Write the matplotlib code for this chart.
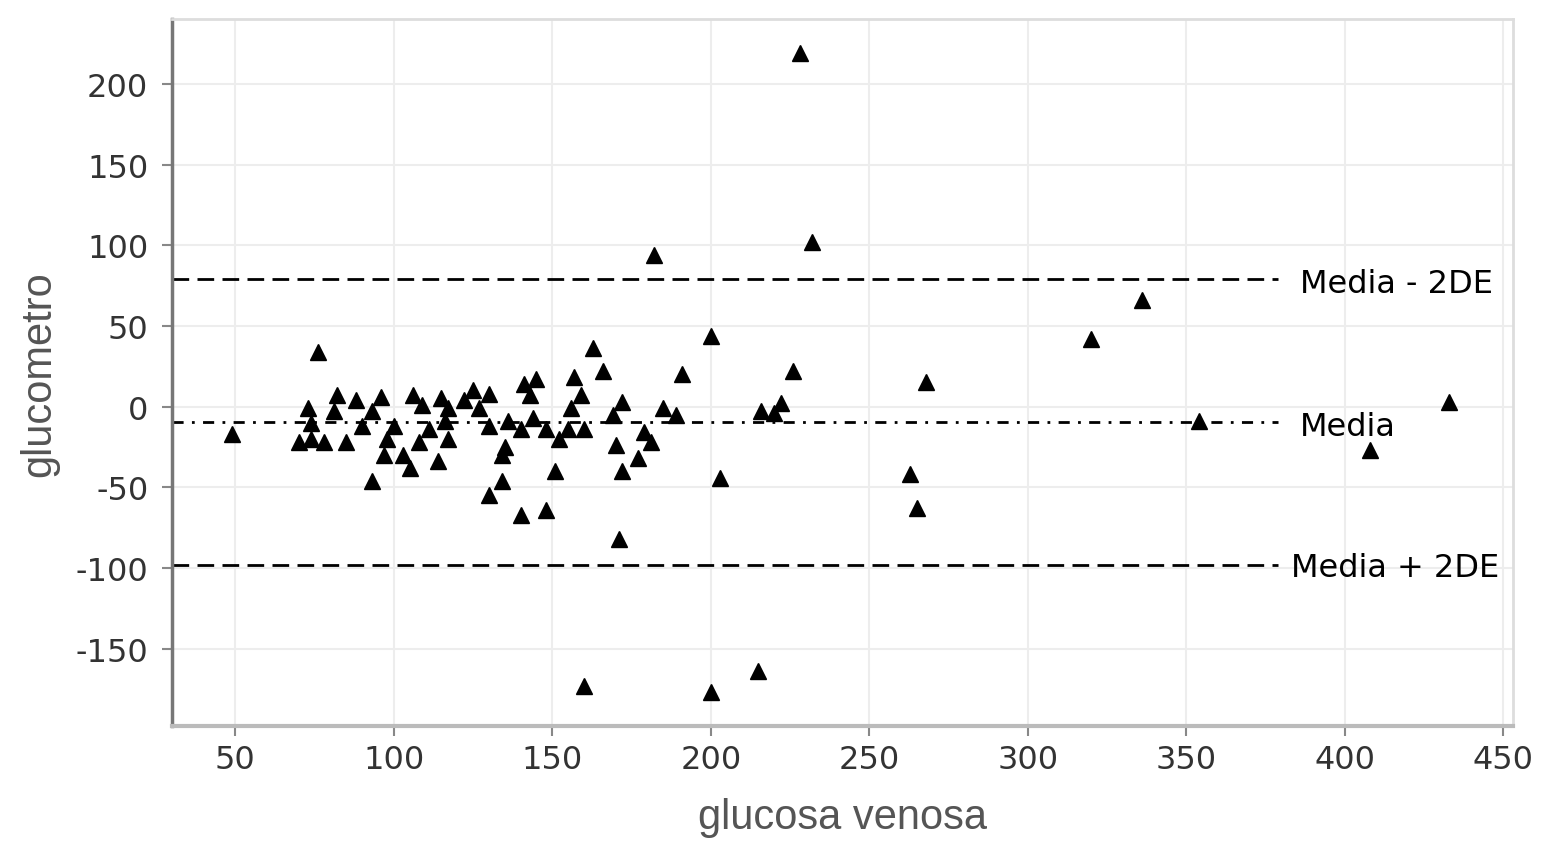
import matplotlib
matplotlib.use("Agg")
import matplotlib.pyplot as plt

plt.rcParams["axes.unicode_minus"] = False

# glucosa venosa vs diferencia con glucometro (Bland-Altman)
glucosa_venosa = [49, 70, 73, 74, 76, 78, 74, 81, 82, 85, 88, 90, 93, 93, 96,
                  97, 98, 100, 103, 105, 106, 108, 109, 111, 114, 115, 116,
                  117, 117, 122, 125, 127, 130, 130, 130, 134, 135, 134, 136,
                  140, 140, 141, 143, 144, 145, 148, 148, 151, 152, 155, 156,
                  157, 159, 160, 160, 163, 166, 169, 170, 171, 172, 172, 177,
                  179, 181, 182, 185, 189, 191, 200, 200, 203, 215, 216, 220,
                  222, 226, 228, 232, 263, 265, 268, 320, 336, 354, 408, 433]
glucometro = [-17, -22, -1, -20, 34, -22, -10, -3, 7, -22, 4, -12, -3, -46, 6,
              -30, -20, -12, -30, -38, 7, -22, 1, -14, -34, 5, -9,
              -20, -1, 4, 10, -1, 8, -12, -55, -30, -25, -46, -9,
              -14, -67, 14, 7, -7, 17, -14, -64, -40, -20, -14, -1,
              18, 7, -14, -173, 36, 22, -5, -24, -82, 3, -40, -32,
              -16, -22, 94, -1, -5, 20, 44, -177, -44, -164, -3, -4,
              2, 22, 219, 102, -42, -63, 15, 42, 66, -9, -27, 3]

media = -9.6
media_menos_2de = 79
media_mas_2de = -98
fin_lineas = 379

fig = plt.figure(figsize=(15.42, 8.45), dpi=100)
ax = fig.add_axes([0.1115, 0.1396, 0.8695, 0.8364])

ax.grid(True, color="#ededed", linewidth=1.5)
ax.set_axisbelow(True)

ax.plot([30, fin_lineas], [media_menos_2de, media_menos_2de], color="black",
        linestyle=(0, (6, 3)), linewidth=2)
ax.plot([30, fin_lineas], [media, media], color="black",
        linestyle=(0, (4, 3, 1, 3)), linewidth=2)
ax.plot([30, fin_lineas], [media_mas_2de, media_mas_2de], color="black",
        linestyle=(0, (6, 3)), linewidth=2)

ax.plot(glucosa_venosa, glucometro, "^", color="black", markersize=11,
        linestyle="none")

ax.text(386, media_menos_2de - 3, "Media - 2DE", fontsize=23, va="center",
        ha="left", family="DejaVu Sans")
ax.text(386, media - 3, "Media", fontsize=23, va="center", ha="left",
        family="DejaVu Sans")
ax.text(383, media_mas_2de - 2, "Media + 2DE", fontsize=23, va="center",
        ha="left", family="DejaVu Sans")

ax.set_xlim(30, 453)
ax.set_ylim(-198, 240)
ax.set_xticks([50, 100, 150, 200, 250, 300, 350, 400, 450])
ax.set_yticks([-150, -100, -50, 0, 50, 100, 150, 200])
ax.tick_params(labelsize=23, colors="#888888", labelcolor="#333333",
               length=7, width=1.5)
ax.tick_params(axis="y", pad=10)
ax.tick_params(axis="x", pad=6)
for lbl in ax.get_xticklabels() + ax.get_yticklabels():
    lbl.set_family("DejaVu Sans")

ax.set_xlabel("glucosa venosa", fontsize=30, color="#555555",
              family="Liberation Sans", labelpad=16)
ax.set_ylabel("glucometro", fontsize=30, color="#555555",
              family="Liberation Sans", labelpad=12)

ax.spines["left"].set_color("#777777")
ax.spines["left"].set_linewidth(2.5)
ax.spines["bottom"].set_color("#bbbbbb")
ax.spines["bottom"].set_linewidth(3)
ax.spines["top"].set_color("#dddddd")
ax.spines["top"].set_linewidth(2)
ax.spines["right"].set_color("#dddddd")
ax.spines["right"].set_linewidth(2)

fig.savefig("out.png", dpi=100)
